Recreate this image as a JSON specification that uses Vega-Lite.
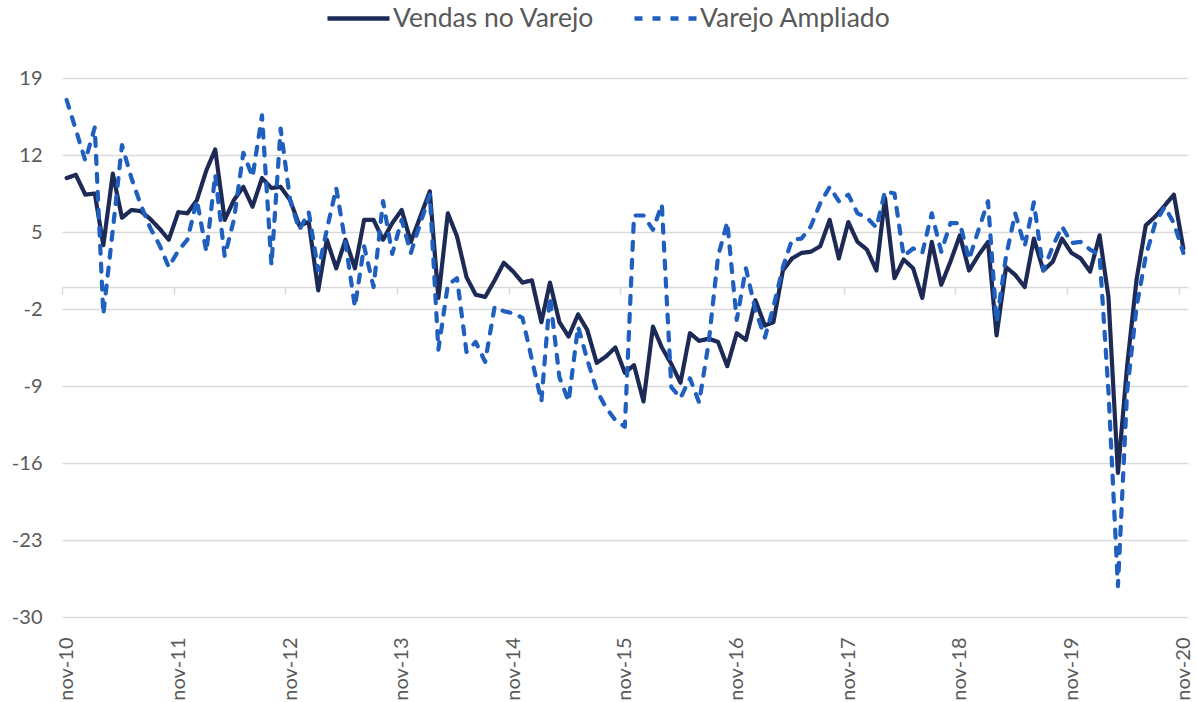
{
  "$schema": "https://vega.github.io/schema/vega-lite/v6.json",
  "width": 1126,
  "height": 539,
  "autosize": {"type": "none"},
  "padding": {"left": 62, "top": 78, "right": 9, "bottom": 85},
  "background": "white",
  "config": {
    "font": "Lato",
    "view": {"stroke": null},
    "axis": {"labelFont": "Lato", "labelColor": "#595959", "labelFontSize": 20, "title": null}
  },
  "data": {"values": [
    {"mes": "2010-11-01", "Vendas no Varejo": 9.9, "Varejo Ampliado": 17.0},
    {"mes": "2010-12-01", "Vendas no Varejo": 10.2, "Varejo Ampliado": 14.3},
    {"mes": "2011-01-01", "Vendas no Varejo": 8.4, "Varejo Ampliado": 11.5},
    {"mes": "2011-02-01", "Vendas no Varejo": 8.5, "Varejo Ampliado": 14.5},
    {"mes": "2011-03-01", "Vendas no Varejo": 3.8, "Varejo Ampliado": -2.5},
    {"mes": "2011-04-01", "Vendas no Varejo": 10.3, "Varejo Ampliado": 5.2},
    {"mes": "2011-05-01", "Vendas no Varejo": 6.3, "Varejo Ampliado": 12.9},
    {"mes": "2011-06-01", "Vendas no Varejo": 7.0, "Varejo Ampliado": 9.9},
    {"mes": "2011-07-01", "Vendas no Varejo": 6.9, "Varejo Ampliado": 7.5},
    {"mes": "2011-08-01", "Vendas no Varejo": 6.2, "Varejo Ampliado": 5.4},
    {"mes": "2011-09-01", "Vendas no Varejo": 5.3, "Varejo Ampliado": 3.8},
    {"mes": "2011-10-01", "Vendas no Varejo": 4.3, "Varejo Ampliado": 1.8},
    {"mes": "2011-11-01", "Vendas no Varejo": 6.8, "Varejo Ampliado": 3.3},
    {"mes": "2011-12-01", "Vendas no Varejo": 6.7, "Varejo Ampliado": 4.3},
    {"mes": "2012-01-01", "Vendas no Varejo": 7.9, "Varejo Ampliado": 7.9},
    {"mes": "2012-02-01", "Vendas no Varejo": 10.6, "Varejo Ampliado": 3.2},
    {"mes": "2012-03-01", "Vendas no Varejo": 12.5, "Varejo Ampliado": 10.2},
    {"mes": "2012-04-01", "Vendas no Varejo": 6.1, "Varejo Ampliado": 2.8},
    {"mes": "2012-05-01", "Vendas no Varejo": 7.9, "Varejo Ampliado": 6.1},
    {"mes": "2012-06-01", "Vendas no Varejo": 9.1, "Varejo Ampliado": 12.2},
    {"mes": "2012-07-01", "Vendas no Varejo": 7.3, "Varejo Ampliado": 10.0},
    {"mes": "2012-08-01", "Vendas no Varejo": 9.9, "Varejo Ampliado": 15.6},
    {"mes": "2012-09-01", "Vendas no Varejo": 9.0, "Varejo Ampliado": 2.0},
    {"mes": "2012-10-01", "Vendas no Varejo": 9.1, "Varejo Ampliado": 14.4},
    {"mes": "2012-11-01", "Vendas no Varejo": 7.9, "Varejo Ampliado": 7.9},
    {"mes": "2012-12-01", "Vendas no Varejo": 5.6, "Varejo Ampliado": 5.2},
    {"mes": "2013-01-01", "Vendas no Varejo": 5.9, "Varejo Ampliado": 6.8},
    {"mes": "2013-02-01", "Vendas no Varejo": -0.3, "Varejo Ampliado": 1.5},
    {"mes": "2013-03-01", "Vendas no Varejo": 4.3, "Varejo Ampliado": 5.2},
    {"mes": "2013-04-01", "Vendas no Varejo": 1.7, "Varejo Ampliado": 9.0},
    {"mes": "2013-05-01", "Vendas no Varejo": 4.3, "Varejo Ampliado": 4.0},
    {"mes": "2013-06-01", "Vendas no Varejo": 1.7, "Varejo Ampliado": -1.8},
    {"mes": "2013-07-01", "Vendas no Varejo": 6.1, "Varejo Ampliado": 3.7},
    {"mes": "2013-08-01", "Vendas no Varejo": 6.1, "Varejo Ampliado": 0.0},
    {"mes": "2013-09-01", "Vendas no Varejo": 4.3, "Varejo Ampliado": 7.8},
    {"mes": "2013-10-01", "Vendas no Varejo": 5.8, "Varejo Ampliado": 3.0},
    {"mes": "2013-11-01", "Vendas no Varejo": 7.0, "Varejo Ampliado": 6.1},
    {"mes": "2013-12-01", "Vendas no Varejo": 4.1, "Varejo Ampliado": 3.1},
    {"mes": "2014-01-01", "Vendas no Varejo": 6.4, "Varejo Ampliado": 5.8},
    {"mes": "2014-02-01", "Vendas no Varejo": 8.7, "Varejo Ampliado": 8.4},
    {"mes": "2014-03-01", "Vendas no Varejo": -1.0, "Varejo Ampliado": -5.7},
    {"mes": "2014-04-01", "Vendas no Varejo": 6.7, "Varejo Ampliado": 0.2},
    {"mes": "2014-05-01", "Vendas no Varejo": 4.6, "Varejo Ampliado": 0.8},
    {"mes": "2014-06-01", "Vendas no Varejo": 0.9, "Varejo Ampliado": -5.9},
    {"mes": "2014-07-01", "Vendas no Varejo": -0.7, "Varejo Ampliado": -5.0},
    {"mes": "2014-08-01", "Vendas no Varejo": -0.9, "Varejo Ampliado": -6.8},
    {"mes": "2014-09-01", "Vendas no Varejo": 0.6, "Varejo Ampliado": -1.8},
    {"mes": "2014-10-01", "Vendas no Varejo": 2.2, "Varejo Ampliado": -2.2},
    {"mes": "2014-11-01", "Vendas no Varejo": 1.4, "Varejo Ampliado": -2.4},
    {"mes": "2014-12-01", "Vendas no Varejo": 0.4, "Varejo Ampliado": -2.8},
    {"mes": "2015-01-01", "Vendas no Varejo": 0.6, "Varejo Ampliado": -6.6},
    {"mes": "2015-02-01", "Vendas no Varejo": -3.2, "Varejo Ampliado": -10.4},
    {"mes": "2015-03-01", "Vendas no Varejo": 0.4, "Varejo Ampliado": -0.9},
    {"mes": "2015-04-01", "Vendas no Varejo": -3.2, "Varejo Ampliado": -8.2},
    {"mes": "2015-05-01", "Vendas no Varejo": -4.5, "Varejo Ampliado": -10.4},
    {"mes": "2015-06-01", "Vendas no Varejo": -2.5, "Varejo Ampliado": -3.6},
    {"mes": "2015-07-01", "Vendas no Varejo": -3.9, "Varejo Ampliado": -6.6},
    {"mes": "2015-08-01", "Vendas no Varejo": -6.9, "Varejo Ampliado": -9.4},
    {"mes": "2015-09-01", "Vendas no Varejo": -6.3, "Varejo Ampliado": -11.0},
    {"mes": "2015-10-01", "Vendas no Varejo": -5.5, "Varejo Ampliado": -12.1},
    {"mes": "2015-11-01", "Vendas no Varejo": -7.8, "Varejo Ampliado": -12.7},
    {"mes": "2015-12-01", "Vendas no Varejo": -7.1, "Varejo Ampliado": 6.5},
    {"mes": "2016-01-01", "Vendas no Varejo": -10.4, "Varejo Ampliado": 6.5},
    {"mes": "2016-02-01", "Vendas no Varejo": -3.6, "Varejo Ampliado": 5.2},
    {"mes": "2016-03-01", "Vendas no Varejo": -5.5, "Varejo Ampliado": 7.5},
    {"mes": "2016-04-01", "Vendas no Varejo": -7.0, "Varejo Ampliado": -9.1},
    {"mes": "2016-05-01", "Vendas no Varejo": -8.7, "Varejo Ampliado": -10.1},
    {"mes": "2016-06-01", "Vendas no Varejo": -4.2, "Varejo Ampliado": -8.3},
    {"mes": "2016-07-01", "Vendas no Varejo": -4.9, "Varejo Ampliado": -10.5},
    {"mes": "2016-08-01", "Vendas no Varejo": -4.7, "Varejo Ampliado": -5.1},
    {"mes": "2016-09-01", "Vendas no Varejo": -5.0, "Varejo Ampliado": 2.8},
    {"mes": "2016-10-01", "Vendas no Varejo": -7.2, "Varejo Ampliado": 5.9},
    {"mes": "2016-11-01", "Vendas no Varejo": -4.2, "Varejo Ampliado": -3.0},
    {"mes": "2016-12-01", "Vendas no Varejo": -4.8, "Varejo Ampliado": 1.7},
    {"mes": "2017-01-01", "Vendas no Varejo": -1.2, "Varejo Ampliado": -2.1},
    {"mes": "2017-02-01", "Vendas no Varejo": -3.5, "Varejo Ampliado": -4.6},
    {"mes": "2017-03-01", "Vendas no Varejo": -3.2, "Varejo Ampliado": -1.8},
    {"mes": "2017-04-01", "Vendas no Varejo": 1.5, "Varejo Ampliado": 1.8},
    {"mes": "2017-05-01", "Vendas no Varejo": 2.6, "Varejo Ampliado": 4.3},
    {"mes": "2017-06-01", "Vendas no Varejo": 3.1, "Varejo Ampliado": 4.4},
    {"mes": "2017-07-01", "Vendas no Varejo": 3.2, "Varejo Ampliado": 5.5},
    {"mes": "2017-08-01", "Vendas no Varejo": 3.7, "Varejo Ampliado": 7.6},
    {"mes": "2017-09-01", "Vendas no Varejo": 6.1, "Varejo Ampliado": 9.1},
    {"mes": "2017-10-01", "Vendas no Varejo": 2.6, "Varejo Ampliado": 7.8},
    {"mes": "2017-11-01", "Vendas no Varejo": 5.9, "Varejo Ampliado": 8.4},
    {"mes": "2017-12-01", "Vendas no Varejo": 4.1, "Varejo Ampliado": 6.7},
    {"mes": "2018-01-01", "Vendas no Varejo": 3.4, "Varejo Ampliado": 6.3},
    {"mes": "2018-02-01", "Vendas no Varejo": 1.5, "Varejo Ampliado": 5.4},
    {"mes": "2018-03-01", "Vendas no Varejo": 8.1, "Varejo Ampliado": 8.7},
    {"mes": "2018-04-01", "Vendas no Varejo": 0.8, "Varejo Ampliado": 8.5},
    {"mes": "2018-05-01", "Vendas no Varejo": 2.5, "Varejo Ampliado": 2.8},
    {"mes": "2018-06-01", "Vendas no Varejo": 1.7, "Varejo Ampliado": 3.5},
    {"mes": "2018-07-01", "Vendas no Varejo": -1.0, "Varejo Ampliado": 3.1},
    {"mes": "2018-08-01", "Vendas no Varejo": 4.1, "Varejo Ampliado": 6.7},
    {"mes": "2018-09-01", "Vendas no Varejo": 0.2, "Varejo Ampliado": 3.2},
    {"mes": "2018-10-01", "Vendas no Varejo": 2.3, "Varejo Ampliado": 5.8},
    {"mes": "2018-11-01", "Vendas no Varejo": 4.7, "Varejo Ampliado": 5.8},
    {"mes": "2018-12-01", "Vendas no Varejo": 1.5, "Varejo Ampliado": 2.5},
    {"mes": "2019-01-01", "Vendas no Varejo": 2.9, "Varejo Ampliado": 5.2},
    {"mes": "2019-02-01", "Vendas no Varejo": 4.1, "Varejo Ampliado": 7.8},
    {"mes": "2019-03-01", "Vendas no Varejo": -4.4, "Varejo Ampliado": -3.2},
    {"mes": "2019-04-01", "Vendas no Varejo": 1.8, "Varejo Ampliado": 2.8},
    {"mes": "2019-05-01", "Vendas no Varejo": 1.1, "Varejo Ampliado": 6.7},
    {"mes": "2019-06-01", "Vendas no Varejo": 0.0, "Varejo Ampliado": 3.7},
    {"mes": "2019-07-01", "Vendas no Varejo": 4.4, "Varejo Ampliado": 7.7},
    {"mes": "2019-08-01", "Vendas no Varejo": 1.5, "Varejo Ampliado": 1.5},
    {"mes": "2019-09-01", "Vendas no Varejo": 2.3, "Varejo Ampliado": 3.7},
    {"mes": "2019-10-01", "Vendas no Varejo": 4.4, "Varejo Ampliado": 5.5},
    {"mes": "2019-11-01", "Vendas no Varejo": 3.1, "Varejo Ampliado": 4.0},
    {"mes": "2019-12-01", "Vendas no Varejo": 2.6, "Varejo Ampliado": 4.1},
    {"mes": "2020-01-01", "Vendas no Varejo": 1.4, "Varejo Ampliado": 3.4},
    {"mes": "2020-02-01", "Vendas no Varejo": 4.7, "Varejo Ampliado": 2.9},
    {"mes": "2020-03-01", "Vendas no Varejo": -0.9, "Varejo Ampliado": -9.5},
    {"mes": "2020-04-01", "Vendas no Varejo": -16.9, "Varejo Ampliado": -27.2},
    {"mes": "2020-05-01", "Vendas no Varejo": -7.2, "Varejo Ampliado": -9.5},
    {"mes": "2020-06-01", "Vendas no Varejo": 0.7, "Varejo Ampliado": -1.8},
    {"mes": "2020-07-01", "Vendas no Varejo": 5.6, "Varejo Ampliado": 2.8},
    {"mes": "2020-08-01", "Vendas no Varejo": 6.4, "Varejo Ampliado": 5.8},
    {"mes": "2020-09-01", "Vendas no Varejo": 7.4, "Varejo Ampliado": 7.3},
    {"mes": "2020-10-01", "Vendas no Varejo": 8.4, "Varejo Ampliado": 5.8},
    {"mes": "2020-11-01", "Vendas no Varejo": 3.5, "Varejo Ampliado": 3.1}
  ]},
  "transform": [{"fold": ["Vendas no Varejo", "Varejo Ampliado"], "as": ["serie", "valor"]}],
  "encoding": {
    "y": {
      "field": "valor", "type": "quantitative",
      "scale": {"domain": [-30, 19], "nice": false, "zero": false},
      "axis": {"values": [19, 12, 5, -2, -9, -16, -23, -30], "domain": false, "ticks": false, "grid": true, "gridColor": "#d9d9d9", "gridWidth": 1.3, "labelPadding": 20, "labelFontSize": 20,
        "labelExpr": "datum.value < 0 ? '-' + abs(datum.value) : '' + datum.value"}
    },
    "color": {
      "field": "serie", "type": "nominal",
      "scale": {"domain": ["Vendas no Varejo", "Varejo Ampliado"], "range": ["#1c2a55", "#1f5fbf"]},
      "legend": {"title": null, "orient": "none", "legendX": 263, "legendY": -93, "direction": "horizontal", "symbolType": "stroke", "symbolSize": 3844, "symbolStrokeWidth": 4.5, "labelFontSize": 26.5, "labelColor": "#595959", "labelFont": "Lato", "labelLimit": 600, "columnPadding": 30, "labelOffset": 1, "padding": 0}
    },
    "strokeDash": {
      "field": "serie", "type": "nominal",
      "scale": {"domain": ["Vendas no Varejo", "Varejo Ampliado"], "range": [[1, 0], [8, 10]]},
      "legend": {"title": null}
    }
  },
  "layer": [
    {
      "transform": [{"filter": "datum.serie === 'Vendas no Varejo'"}],
      "mark": {"type": "line", "strokeWidth": 4.2, "strokeCap": "round", "strokeJoin": "round"},
      "encoding": {
        "x": {
          "field": "mes", "type": "temporal",
          "scale": {"type": "utc", "domain": [{"year": 2010, "month": 10, "date": 16, "hours": 19, "utc": true}, {"year": 2020, "month": 11, "date": 16, "hours": 5, "utc": true}]},
          "axis": {
            "orient": "bottom", "domain": false, "ticks": false, "grid": false, "labelAngle": 270, "labelAlign": "right", "labelBaseline": "middle", "labelPadding": 20, "labelFontSize": 20,
            "values": [
              {"year": 2010, "month": 11, "date": 1, "utc": true}, {"year": 2011, "month": 11, "date": 1, "utc": true},
              {"year": 2012, "month": 11, "date": 1, "utc": true}, {"year": 2013, "month": 11, "date": 1, "utc": true},
              {"year": 2014, "month": 11, "date": 1, "utc": true}, {"year": 2015, "month": 11, "date": 1, "utc": true},
              {"year": 2016, "month": 11, "date": 1, "utc": true}, {"year": 2017, "month": 11, "date": 1, "utc": true},
              {"year": 2018, "month": 11, "date": 1, "utc": true}, {"year": 2019, "month": 11, "date": 1, "utc": true},
              {"year": 2020, "month": 11, "date": 1, "utc": true}
            ],
            "labelExpr": "'nov-' + utcFormat(datum.value, '%y')"
          }
        }
      }
    },
    {
      "transform": [{"filter": "datum.serie === 'Varejo Ampliado'"}],
      "mark": {"type": "line", "strokeWidth": 4.2, "strokeCap": "round", "strokeJoin": "round"},
      "encoding": {
        "x": {
          "field": "mes", "type": "temporal",
          "scale": {"type": "utc", "domain": [{"year": 2010, "month": 10, "date": 16, "hours": 19, "utc": true}, {"year": 2020, "month": 11, "date": 16, "hours": 5, "utc": true}]},
          "axis": {
            "orient": "bottom", "offset": -330, "domain": true, "domainColor": "#d9d9d9", "domainWidth": 1.5, "ticks": true, "tickColor": "#d9d9d9", "tickWidth": 1.5, "tickSize": 7, "labels": false, "grid": false,
            "values": [
              {"year": 2010, "month": 10, "date": 16, "hours": 19, "utc": true}, {"year": 2011, "month": 10, "date": 16, "hours": 19, "utc": true},
              {"year": 2012, "month": 10, "date": 16, "hours": 19, "utc": true}, {"year": 2013, "month": 10, "date": 16, "hours": 19, "utc": true},
              {"year": 2014, "month": 10, "date": 16, "hours": 19, "utc": true}, {"year": 2015, "month": 10, "date": 16, "hours": 19, "utc": true},
              {"year": 2016, "month": 10, "date": 16, "hours": 19, "utc": true}, {"year": 2017, "month": 10, "date": 16, "hours": 19, "utc": true},
              {"year": 2018, "month": 10, "date": 16, "hours": 19, "utc": true}, {"year": 2019, "month": 10, "date": 16, "hours": 19, "utc": true},
              {"year": 2020, "month": 10, "date": 16, "hours": 19, "utc": true}
            ]
          }
        }
      }
    }
  ],
  "resolve": {"axis": {"x": "independent"}}
}
